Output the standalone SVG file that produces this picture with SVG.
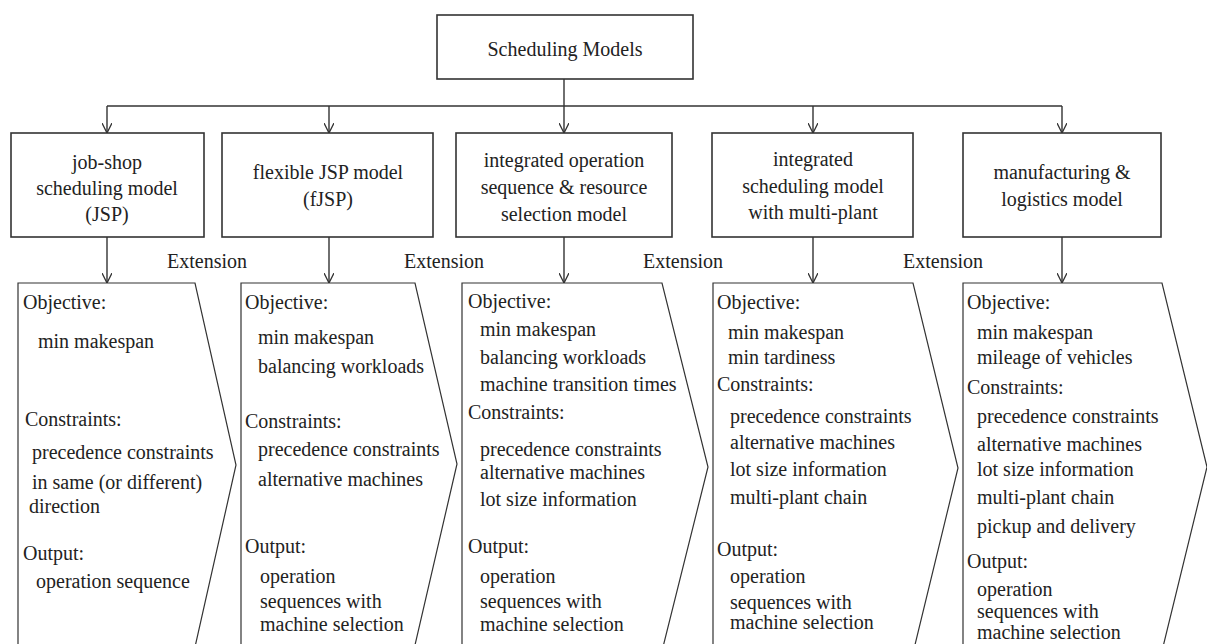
<svg xmlns="http://www.w3.org/2000/svg" width="1207" height="644" viewBox="0 0 1207 644">
<defs>
<marker id="arr" viewBox="0 0 10 10" refX="10" refY="5" markerWidth="10" markerHeight="10" markerUnits="userSpaceOnUse" orient="auto">
<path d="M0,0 L10,5 L0,10" fill="none" stroke="#333" stroke-width="1.3"/>
</marker>
<style>
text{font-family:"Liberation Serif","Times New Roman",serif;font-size:20px;fill:#222}
.c{text-anchor:middle}
.box{fill:#fff;stroke:#333;stroke-width:1.6}
.pent{fill:#fff;stroke:#333;stroke-width:1.2}
.ln{fill:none;stroke:#333;stroke-width:1.4}
.ar{fill:none;stroke:#333;stroke-width:1.4;marker-end:url(#arr)}
</style>
</defs>
<rect width="1207" height="644" fill="#fff"/>

<g id="connectors">
<path class="ln" d="M564,79 V106"/>
<path class="ln" d="M107,106 H1062"/>
<path class="ar" d="M107,106 V133"/>
<path class="ar" d="M329,106 V133"/>
<path class="ar" d="M564,106 V133"/>
<path class="ar" d="M813,106 V133"/>
<path class="ar" d="M1062,106 V133"/>
<path class="ar" d="M107,237 V283"/>
<path class="ar" d="M329,237 V283"/>
<path class="ar" d="M564,237 V283"/>
<path class="ar" d="M813,237 V283"/>
<path class="ar" d="M1062,237 V283"/>
</g>

<g id="root">
<rect class="box" x="437" y="15" width="256" height="64"/>
<text class="c" x="565" y="56">Scheduling Models</text>
</g>

<g id="m1">
<rect class="box" x="11" y="133" width="193" height="104"/>
<text class="c" x="107" y="169">job-shop</text>
<text class="c" x="107" y="195">scheduling model</text>
<text class="c" x="107" y="221">(JSP)</text>
</g>
<g id="m2">
<rect class="box" x="222" y="133" width="211" height="104"/>
<text class="c" x="328" y="179">flexible JSP model</text>
<text class="c" x="328" y="206">(fJSP)</text>
</g>
<g id="m3">
<rect class="box" x="456" y="133" width="216" height="104"/>
<text class="c" x="564" y="167">integrated operation</text>
<text class="c" x="564" y="194">sequence &amp; resource</text>
<text class="c" x="564" y="221">selection model</text>
</g>
<g id="m4">
<rect class="box" x="712" y="133" width="201" height="104"/>
<text class="c" x="813" y="166">integrated</text>
<text class="c" x="813" y="193">scheduling model</text>
<text class="c" x="813" y="219">with multi-plant</text>
</g>
<g id="m5">
<rect class="box" x="963" y="133" width="198" height="104"/>
<text class="c" x="1062" y="179">manufacturing &amp;</text>
<text class="c" x="1062" y="206">logistics model</text>
</g>

<g id="ext-labels">
<text class="c" x="207" y="268">Extension</text>
<text class="c" x="444" y="268">Extension</text>
<text class="c" x="683" y="268">Extension</text>
<text class="c" x="943" y="268">Extension</text>
</g>

<g id="d1">
<path class="pent" d="M18,283 L195,283 L236,465 L195,647 L18,647 Z"/>
<text x="23" y="309">Objective:</text>
<text x="38" y="348">min makespan</text>
<text x="25" y="426">Constraints:</text>
<text x="32" y="459">precedence constraints</text>
<text x="32" y="489">in same (or different)</text>
<text x="29" y="513">direction</text>
<text x="23" y="560">Output:</text>
<text x="36" y="588">operation sequence</text>
</g>

<g id="d2">
<path class="pent" d="M241,283 L415,283 L457,464 L415,645 L241,645 Z"/>
<text x="245" y="309">Objective:</text>
<text x="258" y="344">min makespan</text>
<text x="258" y="373">balancing workloads</text>
<text x="245" y="428">Constraints:</text>
<text x="258" y="456">precedence constraints</text>
<text x="258" y="486">alternative machines</text>
<text x="245" y="553">Output:</text>
<text x="260" y="583">operation</text>
<text x="260" y="608">sequences with</text>
<text x="260" y="631">machine selection</text>
</g>

<g id="d3">
<path class="pent" d="M462,283 L662,283 L708,467 L662,651 L462,651 Z"/>
<text x="468" y="308">Objective:</text>
<text x="480" y="336">min makespan</text>
<text x="480" y="364">balancing workloads</text>
<text x="480" y="391">machine transition times</text>
<text x="468" y="419">Constraints:</text>
<text x="480" y="456">precedence constraints</text>
<text x="480" y="479">alternative machines</text>
<text x="480" y="506">lot size information</text>
<text x="468" y="553">Output:</text>
<text x="480" y="583">operation</text>
<text x="480" y="608">sequences with</text>
<text x="480" y="631">machine selection</text>
</g>

<g id="d4">
<path class="pent" d="M713,283 L913,283 L958,468 L913,653 L713,653 Z"/>
<text x="717" y="309">Objective:</text>
<text x="728" y="339">min makespan</text>
<text x="728" y="364">min tardiness</text>
<text x="717" y="391">Constraints:</text>
<text x="730" y="423">precedence constraints</text>
<text x="730" y="449">alternative machines</text>
<text x="730" y="476">lot size information</text>
<text x="730" y="504">multi-plant chain</text>
<text x="717" y="556">Output:</text>
<text x="730" y="583">operation</text>
<text x="730" y="609">sequences with</text>
<text x="730" y="629">machine selection</text>
</g>

<g id="d5">
<path class="pent" d="M963,283 L1162,283 L1207,467 L1162,651 L963,651 Z"/>
<text x="967" y="309">Objective:</text>
<text x="977" y="339">min makespan</text>
<text x="977" y="364">mileage of vehicles</text>
<text x="967" y="394">Constraints:</text>
<text x="977" y="423">precedence constraints</text>
<text x="977" y="451">alternative machines</text>
<text x="977" y="476">lot size information</text>
<text x="977" y="504">multi-plant chain</text>
<text x="977" y="533">pickup and delivery</text>
<text x="967" y="568">Output:</text>
<text x="977" y="596">operation</text>
<text x="977" y="618">sequences with</text>
<text x="977" y="639">machine selection</text>
</g>
</svg>
